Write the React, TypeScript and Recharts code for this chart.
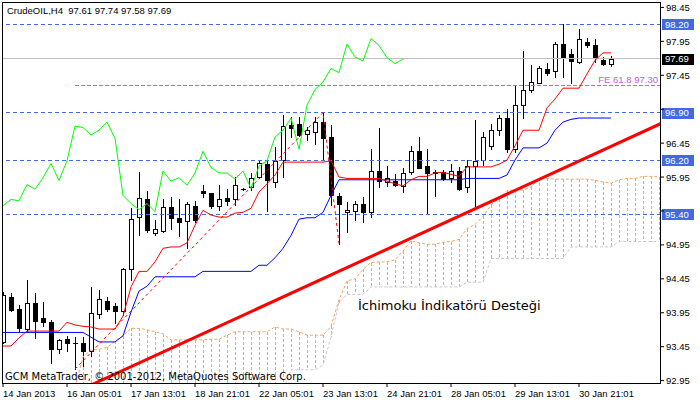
import React from 'react';
import { ComposedChart, Bar, Line, XAxis, YAxis, ReferenceLine } from 'recharts';

// ---------- data ----------
const symbolTitle = 'CrudeOIL,H4';

const opens = [93.52,94.18,94.00,93.71,94.09,93.87,93.81,93.41,93.56,93.50,93.50,93.39,93.93,94.13,94.05,93.97,94.60,95.36,95.62,95.13,95.16,95.51,95.34,95.30,95.53,95.74,95.71,95.52,95.64,95.62,95.77,95.81,95.95,96.14,95.88,96.20,96.71,96.73,96.59,96.62,96.76,96.54,95.67,95.43,95.45,95.55,95.43,96.04,95.87,95.89,95.82,96.02,96.33,96.11,96.03,96.03,95.93,96.04,95.80,96.12,96.20,96.41,96.64,96.82,96.36,97.01,97.23,97.34,97.54,97.51,97.91,97.76,97.64,97.94,97.89,97.68,97.61];
const highs = [94.26,94.24,94.07,94.43,94.24,94.11,93.84,93.57,93.61,93.59,93.60,94.33,94.28,94.18,94.09,94.61,95.49,96.02,95.74,95.32,95.62,95.65,95.63,95.58,95.59,95.83,95.72,95.83,95.77,95.95,95.79,96.01,96.20,96.20,96.39,96.87,96.83,96.83,96.69,96.83,96.90,96.72,95.71,95.58,95.59,95.66,96.37,96.67,96.11,95.99,96.08,96.41,96.54,96.36,96.05,96.05,96.14,96.10,96.20,96.79,96.61,96.73,96.86,96.95,97.30,97.81,97.60,97.58,97.63,97.94,98.21,97.83,98.13,98.00,97.98,97.72,97.74];
const lows = [93.50,93.98,93.68,93.68,93.58,93.75,93.21,93.36,93.39,93.12,93.16,93.32,93.88,93.97,93.80,93.91,94.43,95.09,95.14,95.09,95.14,95.19,95.08,94.90,95.29,95.66,95.49,95.47,95.54,95.54,95.76,95.76,95.93,95.45,95.81,95.95,96.54,96.55,96.49,96.43,96.20,95.54,94.97,95.14,95.31,95.29,95.36,95.80,95.82,95.82,95.73,95.99,96.08,95.40,95.67,95.90,95.87,95.76,95.73,95.49,96.13,96.37,96.57,96.32,96.32,96.82,97.21,97.33,97.45,97.42,97.43,97.33,97.63,97.87,97.65,97.60,97.58];
const closes = [94.21,93.99,93.72,94.09,93.83,93.82,93.42,93.55,93.50,93.50,93.39,93.94,94.15,94.00,93.97,94.59,95.33,95.64,95.17,95.18,95.51,95.35,95.29,95.55,95.31,95.71,95.53,95.62,95.60,95.84,95.77,95.94,96.15,95.90,96.19,96.70,96.68,96.57,96.64,96.76,96.52,95.68,95.56,95.47,95.56,95.44,96.04,95.89,95.94,95.83,96.01,96.33,96.09,96.01,96.01,95.92,96.04,95.78,96.11,96.19,96.54,96.64,96.82,96.36,97.01,97.24,97.35,97.55,97.49,97.91,97.72,97.66,97.99,97.89,97.71,97.62,97.69];

// Ichimoku lines (read per bar)
const tenkan = [93.46,93.46,93.58,93.68,93.68,93.68,93.68,93.68,93.81,93.77,93.75,93.74,93.71,93.71,93.71,93.90,94.33,94.56,94.56,94.70,94.90,94.92,94.92,94.98,95.24,95.46,95.39,95.36,95.36,95.42,95.43,95.49,95.73,95.85,95.98,96.17,96.17,96.17,96.17,96.17,96.17,96.19,95.95,95.93,95.93,95.93,95.93,95.93,95.89,95.85,95.82,95.91,95.96,95.96,96.01,96.02,95.99,95.96,96.10,96.10,96.10,96.10,96.14,96.20,96.41,96.64,96.64,96.64,96.97,97.10,97.26,97.26,97.26,97.47,97.67,97.78,97.78];
const kijun = [93.66,93.66,93.66,93.66,93.66,93.66,93.66,93.66,93.66,93.66,93.66,93.59,93.52,93.52,93.52,93.61,93.96,94.27,94.34,94.48,94.48,94.48,94.48,94.48,94.48,94.56,94.56,94.56,94.56,94.56,94.56,94.56,94.65,94.65,94.76,94.90,95.09,95.33,95.35,95.35,95.43,95.68,95.91,95.91,95.91,95.91,95.91,95.91,95.91,95.91,95.91,95.91,95.91,95.91,95.91,95.91,95.91,95.91,95.93,95.93,95.93,95.93,95.93,95.98,96.20,96.38,96.38,96.38,96.45,96.64,96.76,96.80,96.82,96.82,96.82,96.82,96.82];
const senkouA = [null,null,null,null,null,null,null,null,null,92.85,93.30,93.40,93.41,93.44,93.53,93.61,93.72,93.72,93.70,93.67,93.64,93.55,93.55,93.55,93.55,93.55,93.56,93.56,93.62,93.67,93.67,93.67,93.67,93.67,93.74,93.71,93.71,93.67,93.62,93.62,93.62,93.75,94.14,94.42,94.45,94.59,94.69,94.70,94.70,94.73,94.86,95.01,94.98,94.96,94.96,94.99,95.00,95.03,95.19,95.25,95.37,95.54,95.63,95.75,95.76,95.76,95.80,95.93,95.93,95.92,95.92,95.92,95.92,95.92,95.90,95.88,95.86,95.91,95.93,95.93,95.96,95.96,95.95];
const senkouB = [null,null,null,null,null,null,null,null,null,92.80,92.80,92.80,92.80,92.80,92.80,92.80,92.80,92.80,92.80,92.80,92.80,92.80,92.80,92.80,92.80,92.80,92.80,92.80,92.80,92.80,92.80,92.80,92.80,92.80,92.80,92.80,93.11,93.11,93.11,93.11,93.18,93.59,94.10,94.22,94.22,94.22,94.33,94.33,94.33,94.33,94.33,94.33,94.33,94.33,94.33,94.33,94.33,94.33,94.40,94.40,94.40,94.75,94.75,94.75,94.75,94.75,94.75,94.75,94.75,94.75,94.75,94.92,94.92,94.92,94.92,94.92,94.92,95.00,95.00,95.00,95.00,95.00,95.00];
const chikouShift = 26;

// drawn objects
const trendIdx = [0, 83];
const trendPrice = [92.29, 96.78];
const feIdx = [9, 40, 42];
const fePrice = [93.12, 96.90, 94.97];
const feLevel = 97.30;
const feLevelIdx = [9, 83];
const feLabel = 'FE 61.8 97.30';
const levelLines = [98.20, 96.90, 96.20, 95.40];
const bidPrice = 97.69;
const chartNote = 'İchimoku İndikatörü Desteği';
const copyright = 'GCM MetaTrader, © 2001-2012, MetaQuotes Software Corp.';

// axes
const xTickIdx = [0, 8, 16, 24, 32, 40, 48, 56, 64, 72];
const xTickLabels = ['14 Jan 2013', '16 Jan 05:01', '17 Jan 13:01', '18 Jan 21:01', '22 Jan 05:01', '23 Jan 13:01', '24 Jan 21:01', '28 Jan 05:01', '29 Jan 13:01', '30 Jan 21:01'];
const yTicks = [92.95, 93.45, 93.95, 94.45, 94.95, 95.45, 95.95, 96.45, 96.95, 97.45, 97.95, 98.45];
const yTicksHidden = [95.45, 96.95];

// ---------- table ----------
const nRows = 84;
const rows = Array.from({ length: nRows }, (_, i) => {
  const hasBar = i < closes.length;
  const a = i < senkouA.length ? senkouA[i] : null;
  const b = i < senkouB.length ? senkouB[i] : null;
  const ti = trendIdx.indexOf(i);
  const fi = feIdx.indexOf(i);
  return {
    i,
    candle: hasBar ? [lows[i], highs[i]] : null,
    o: hasBar ? opens[i] : null,
    h: hasBar ? highs[i] : null,
    l: hasBar ? lows[i] : null,
    c: hasBar ? closes[i] : null,
    tenkan: hasBar ? tenkan[i] : null,
    kijun: hasBar ? kijun[i] : null,
    chikou: i + chikouShift < closes.length ? closes[i + chikouShift] : null,
    a,
    b,
    cloud: a != null && b != null ? [Math.min(a, b), Math.max(a, b)] : null,
    trend: ti >= 0 ? trendPrice[ti] : null,
    fe: fi >= 0 ? fePrice[fi] : null,
    feLvl: feLevelIdx.includes(i) ? feLevel : null,
  };
});

const MT_FONT = "'Liberation Sans', Arial, sans-serif";
const last = closes.length - 1;
const header = `${symbolTitle}  ${opens[last].toFixed(2)} ${highs[last].toFixed(2)} ${lows[last].toFixed(2)} ${closes[last].toFixed(2)}`;

const CLOUD_COLOR = '#F4A460';
const FE_COLOR = '#CC55DD';

function CandleShape(props: any) {
  const { x, y, width, height, payload } = props;
  if (!payload || payload.o == null || !Number.isFinite(y) || !Number.isFinite(height)) return null;
  const top = Math.min(y, y + height);
  const bottom = Math.max(y, y + height);
  const { o, h, l, c } = payload;
  const span = h - l;
  const py = (p: number) => (span > 0 ? top + ((h - p) / span) * (bottom - top) : top);
  const cx = Math.round(x + width / 2 + 0.01);
  const yHigh = Math.round(top);
  const yLow = Math.round(bottom);
  const yO = Math.round(py(o));
  const yC = Math.round(py(c));
  const bTop = Math.min(yO, yC);
  const bBot = Math.max(yO, yC);
  const bull = c >= o;
  let body;
  if (bBot - bTop < 1) {
    body = <line x1={cx - 2} x2={cx + 3} y1={bTop + 0.5} y2={bTop + 0.5} stroke="#000" strokeWidth={1} />;
  } else if (bull) {
    body = <rect x={cx - 1.5} y={bTop + 0.5} width={4} height={bBot - bTop} fill="#fff" stroke="#000" strokeWidth={1} />;
  } else {
    body = <rect x={cx - 2} y={bTop} width={5} height={bBot - bTop + 1} fill="#000" />;
  }
  return (
    <g shapeRendering="crispEdges">
      <line x1={cx + 0.5} x2={cx + 0.5} y1={yHigh} y2={yLow + 1} stroke="#000" strokeWidth={1} />
      {body}
    </g>
  );
}

// Dotted hatch drawn as a column of small filled rects (solid colour pixels)
function CloudHatch(props: any) {
  const { x, y, width, height, payload } = props;
  if (!payload || payload.cloud == null || !Number.isFinite(y) || !Number.isFinite(height)) return null;
  const cx = Math.round(x + width / 2 + 0.01);
  const top = Math.round(Math.min(y, y + height));
  const bottom = Math.round(Math.max(y, y + height));
  const segs = [];
  for (let yy = top; yy < bottom; yy += 5) {
    segs.push(<rect key={yy} x={cx} y={yy} width={1} height={Math.min(3, bottom - yy)} fill={CLOUD_COLOR} />);
  }
  return <g shapeRendering="crispEdges">{segs}</g>;
}

function XTick(props: any) {
  const { x, y, payload } = props;
  const k = xTickIdx.indexOf(payload.value);
  return (
    <text x={x} y={y + 8} fontSize={9.5} fontFamily={MT_FONT} fill="#000" textAnchor="start">
      {k >= 0 ? xTickLabels[k] : ''}
    </text>
  );
}

function YTick(props: any) {
  const { x, y, payload } = props;
  if (yTicksHidden.includes(payload.value)) return <g />;
  return (
    <text x={x} y={y + 3.5} fontSize={9.5} fontFamily={MT_FONT} fill="#000" textAnchor="start">
      {payload.value.toFixed(2)}
    </text>
  );
}

function PriceTag({ viewBox, text, bg }: any) {
  if (!viewBox) return null;
  const right = viewBox.x + viewBox.width;
  const yy = viewBox.y;
  return (
    <g>
      <rect x={right + 1} y={Math.round(yy) - 5} width={32} height={11} fill={bg} />
      <text x={right + 4} y={yy + 3.5} fontSize={9.5} fontFamily={MT_FONT} fill="#fff">{text}</text>
    </g>
  );
}

function FeTagText({ x, y }: any) {
  return (
    <text x={x} y={y} fontSize={9.5} fontFamily={MT_FONT} fill="#C060D8" textAnchor="end">
      {feLabel}
    </text>
  );
}

export default function App() {
  const W = 700;
  const H = 402;
  return (
    <div style={{ position: 'absolute', left: 0, top: 0, width: W, height: H, background: '#fff' }}>
      <ComposedChart width={W} height={H} data={rows} margin={{ top: 2, left: 2, right: 0, bottom: 0 }}>
        <XAxis
          type="number"
          dataKey="i"
          domain={[-0.125, 82.25]}
          allowDataOverflow
          ticks={xTickIdx}
          interval={0}
          tickSize={3}
          height={18}
          axisLine={false}
          tickLine={{ stroke: '#000' }}
          tick={(p: any) => <XTick {...p} />}
        />
        <XAxis xAxisId="cloud" type="number" dataKey="i" domain={[-0.125, 82.25]} allowDataOverflow hide />
        <YAxis
          orientation="right"
          type="number"
          domain={[92.9, 98.53]}
          allowDataOverflow
          ticks={yTicks}
          interval={0}
          width={39}
          tickSize={3}
          axisLine={false}
          tickLine={{ stroke: '#000' }}
          tick={(p: any) => <YTick {...p} />}
        />

        <ReferenceLine y={bidPrice} stroke="#C0C0C0" strokeWidth={1} shapeRendering="crispEdges" label={(p: any) => <PriceTag viewBox={p.viewBox} text={bidPrice.toFixed(2)} bg="#000" />} />
        {levelLines.map((v) => (
          <ReferenceLine
            key={v}
            y={v}
            stroke="#4169E1"
            strokeWidth={1}
            strokeDasharray="4 3"
            shapeRendering="crispEdges"
            label={(p: any) => <PriceTag viewBox={p.viewBox} text={v.toFixed(2)} bg="#4169E1" />}
          />
        ))}

        <Bar xAxisId="cloud" dataKey="cloud" barSize={1} shape={(p: any) => <CloudHatch {...p} />} isAnimationActive={false} />
        <Line dataKey="a" stroke={CLOUD_COLOR} strokeWidth={1} strokeDasharray="3 2" dot={false} activeDot={false} isAnimationActive={false} />
        <Line dataKey="b" stroke="#D8BFD8" strokeWidth={1} strokeDasharray="3 2" dot={false} activeDot={false} isAnimationActive={false} />

        <Line
          dataKey="feLvl"
          stroke={FE_COLOR}
          strokeWidth={1}
          strokeDasharray="4 2"
          connectNulls
          dot={false}
          activeDot={false}
          isAnimationActive={false}
          label={(p: any) => (p.index === feLevelIdx[0] ? <FeTagText key="fe" x={658} y={p.y - 2.5} /> : <g key={p.index} />)}
        />

        <Bar dataKey="candle" barSize={5} shape={(p: any) => <CandleShape {...p} />} isAnimationActive={false} />

        <Line dataKey="chikou" stroke="#00FF00" strokeWidth={1} dot={false} activeDot={false} isAnimationActive={false} />
        <Line dataKey="kijun" stroke="#0000FF" strokeWidth={1} dot={false} activeDot={false} isAnimationActive={false} />
        <Line dataKey="tenkan" stroke="#FF0000" strokeWidth={1} dot={false} activeDot={false} isAnimationActive={false} />
        <Line dataKey="fe" stroke="#FF0000" strokeWidth={1} strokeDasharray="3 3" connectNulls dot={false} activeDot={false} isAnimationActive={false} />
        <Line dataKey="trend" stroke="#FF0000" strokeWidth={3} connectNulls dot={false} activeDot={false} isAnimationActive={false} />
      </ComposedChart>
      <svg width={W} height={H} style={{ position: 'absolute', left: 0, top: 0, pointerEvents: 'none' }}>
        <rect x={2.5} y={2.5} width={658} height={381} fill="none" stroke="#000" strokeWidth={1} shapeRendering="crispEdges" />
        <text x={7} y={14} fontSize={9.5} fontFamily={MT_FONT} fill="#000" style={{ whiteSpace: 'pre' }}>{header}</text>
        <text x={5} y={380} fontSize={10} fontFamily="'DejaVu Sans', sans-serif" fill="#000">{copyright}</text>
        <text x={358} y={310} fontSize={13} fontFamily="'DejaVu Sans', sans-serif" fill="#000">{chartNote}</text>
      </svg>
    </div>
  );
}
